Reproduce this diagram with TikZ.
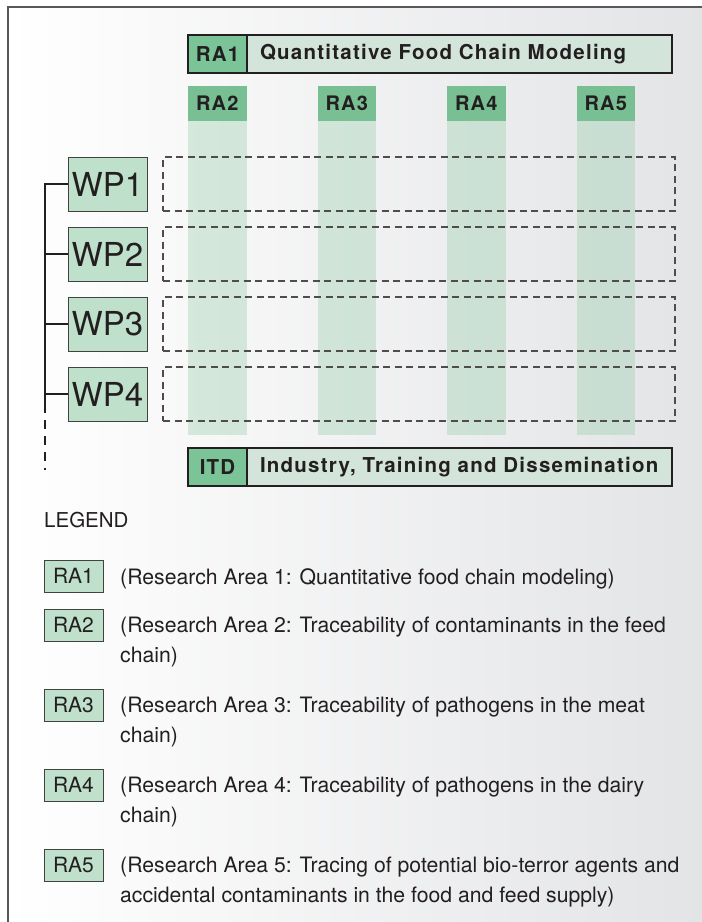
\documentclass[tikz,border=0pt]{standalone}
\usepackage{fontspec}
\setmainfont{TeX Gyre Heros}
\newfontfamily\headfont[LetterSpace=6]{TeX Gyre Heros}
\usepackage{tikz}
\usetikzlibrary{positioning}
\definecolor{darkgreen}{HTML}{7BC497}
\definecolor{headgreen}{HTML}{78BF93}
\definecolor{paleband}{HTML}{D3E5DA}
\definecolor{wpgreen}{HTML}{BFE0CA}
\definecolor{colgreen}{HTML}{9ED0B0}
\definecolor{bgright}{HTML}{E3E4E6}
\definecolor{inkgray}{HTML}{231F20}

\begin{document}
\begin{tikzpicture}[
    x=1pt,y=-1pt,
    node distance=16pt,
    darkcell/.style={draw=inkgray,line width=1.2pt,fill=darkgreen,minimum width=59pt,minimum height=38pt,inner sep=0pt,outer sep=0pt,text=inkgray,font=\headfont\bfseries\fontsize{20.5}{22}\selectfont},
    titlecell/.style={draw=inkgray,line width=1.2pt,fill=paleband,minimum height=38pt,text width=399pt,inner xsep=13pt,inner ysep=0pt,outer sep=0pt,align=left,text=inkgray,font=\headfont\bfseries\fontsize{20.5}{22}\selectfont},
    colhead/.style={fill=headgreen,minimum width=58.5pt,minimum height=35pt,inner sep=0pt,outer sep=0pt,text=inkgray,font=\headfont\bfseries\fontsize{20}{22}\selectfont},
    colfill/.style={fill=colgreen,fill opacity=0.4,minimum width=58.5pt,minimum height=314pt,inner sep=0pt,outer sep=0pt},
    wpbox/.style={draw=inkgray!85,line width=1pt,fill=wpgreen,minimum width=79pt,minimum height=54pt,inner sep=0pt,outer sep=0pt,text=inkgray,font=\fontsize{33}{36}\selectfont},
    wprow/.style={draw=inkgray!80,line width=1.3pt,dash pattern=on 7pt off 4.5pt,minimum width=512pt,minimum height=54pt,inner sep=0pt,outer sep=0pt},
    tree/.style={draw=inkgray,line width=2.8pt},
    keybox/.style={draw=inkgray!85,line width=1pt,fill=wpgreen,minimum width=59pt,minimum height=32pt,inner sep=0pt,outer sep=0pt,text=inkgray,font=\fontsize{21}{24}\selectfont},
    keytext/.style={inner sep=0pt,align=left,text=inkgray,font=\fontsize{21.2}{29.5}\selectfont}
  ]
    \useasboundingbox (0,0) rectangle (702,922);
    % background and frame
    \fill[left color=white,right color=bgright] (8,7) rectangle (702,922);
    \draw[draw=inkgray!75,line width=1.5pt] (8,922) -- (8,7) -- (702,7);

    % RA1 header
    \node[darkcell,anchor=north west] (ra1) at (188,35) {RA1};
    \node[titlecell,right=0pt of ra1] (ra1text) {Quantitative Food Chain Modeling};

    % research area columns
    \node[colhead,anchor=north west] (ra2) at (188,86) {RA2};
    \node[colhead,right=71pt of ra2] (ra3) {RA3};
    \node[colhead,right=71pt of ra3] (ra4) {RA4};
    \node[colhead,right=71pt of ra4] (ra5) {RA5};
    \node[colfill,below=0pt of ra2] (col2) {};
    \node[colfill,below=0pt of ra3] (col3) {};
    \node[colfill,below=0pt of ra4] (col4) {};
    \node[colfill,below=0pt of ra5] (col5) {};

    % work packages
    \node[wpbox,anchor=north west] (wp1) at (68,157) {WP1};
    \node[wpbox,below=16pt of wp1] (wp2) {WP2};
    \node[wpbox,below=16pt of wp2] (wp3) {WP3};
    \node[wpbox,below=16pt of wp3] (wp4) {WP4};
    \node[wprow,right=16pt of wp1] (row1) {};
    \node[wprow,right=16pt of wp2] (row2) {};
    \node[wprow,right=16pt of wp3] (row3) {};
    \node[wprow,right=16pt of wp4] (row4) {};

    \draw[tree] (wp1.west) -- ++(-23pt,0) coordinate (fork) -- (fork |- wp4.west) -- ++(0,-10pt) coordinate (forkend);
    \draw[tree] (fork |- wp2.west) -- (wp2.west);
    \draw[tree] (fork |- wp3.west) -- (wp3.west);
    \draw[tree] (fork |- wp4.west) -- (wp4.west);
    \draw[tree,dash pattern=on 9pt off 7pt] (forkend) -- ++(0,-66pt) coordinate (treeend);

    % ITD footer
    \node[darkcell,anchor=north west] (itd) at (188,448) {ITD};
    \node[titlecell,right=0pt of itd] (itdtext) {Industry, Training and Dissemination};

    % legend
    \node[anchor=west,inner sep=0pt,text=inkgray,font=\fontsize{20.5}{24}\selectfont] (legend) at (44,520) {LEGEND};
    \node[keybox,anchor=north west] (key1) at (44,560) {RA1};
    \node[keybox,below=17pt of key1] (key2) {RA2};
    \node[keybox,below=48pt of key2] (key3) {RA3};
    \node[keybox,below=48pt of key3] (key4) {RA4};
    \node[keybox,below=48pt of key4] (key5) {RA5};
    \node[keytext,below right=8pt and 17pt of key1.north east] (key1text) {(Research Area 1: Quantitative food chain modeling)};
    \node[keytext,below right=8pt and 17pt of key2.north east] (key2text) {(Research Area 2: Traceability of contaminants in the feed\\chain)};
    \node[keytext,below right=8pt and 17pt of key3.north east] (key3text) {(Research Area 3: Traceability of pathogens in the meat\\chain)};
    \node[keytext,below right=8pt and 17pt of key4.north east] (key4text) {(Research Area 4: Traceability of pathogens in the dairy\\chain)};
    \node[keytext,below right=8pt and 17pt of key5.north east] (key5text) {(Research Area 5: Tracing of potential bio-terror agents and\\accidental contaminants in the food and feed supply)};
  \end{tikzpicture}
\end{document}
